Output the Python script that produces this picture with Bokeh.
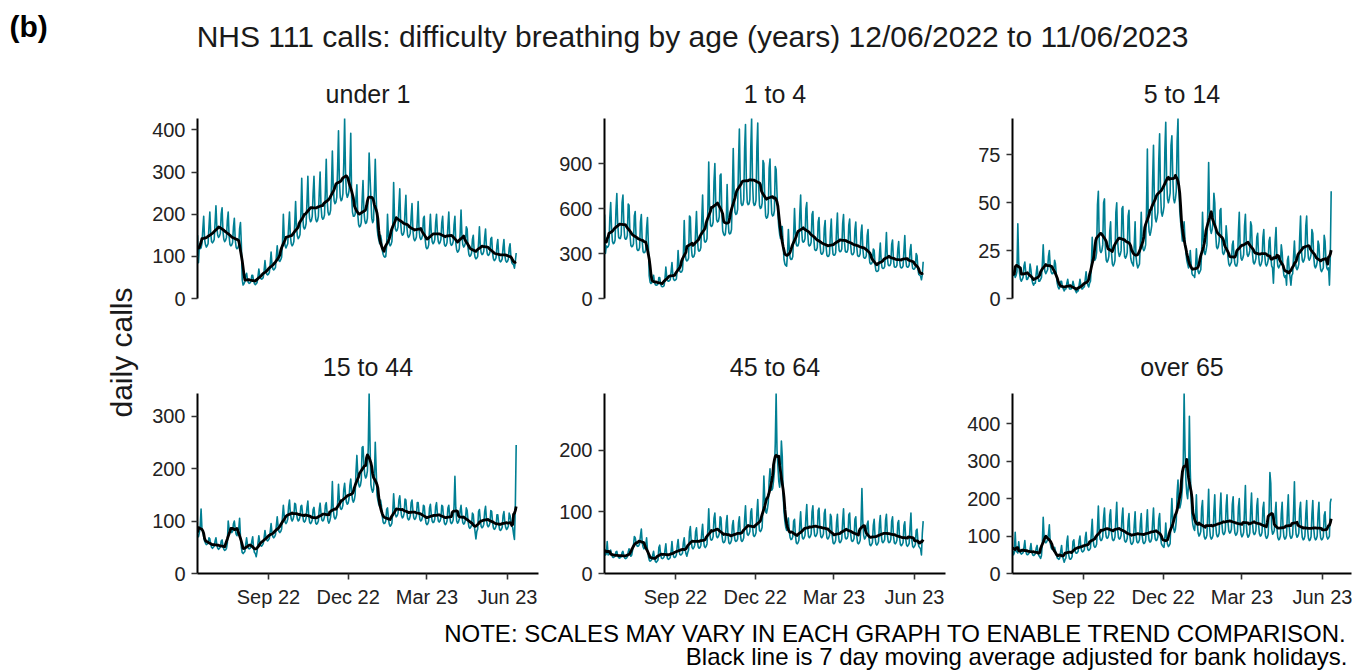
import math
import pandas as pd
from bokeh.plotting import figure
from bokeh.layouts import row, column
from bokeh.models import Range1d, FixedTicker, Label
from bokeh.embed import file_html
from bokeh.resources import INLINE

# ---------------- data (daily NHS 111 calls, Sun..Sat rows, from 12/06/2022) ----------------
START_DATE = "2022-06-12"
TITLE = "NHS 111 calls: difficulty breathing by age (years) 12/06/2022 to 11/06/2023"
PANEL_TITLES = ["under 1", "1 to 4", "5 to 14", "15 to 44", "45 to 64", "over 65"]
Y_TICKS = [[0, 100, 200, 300, 400], [0, 300, 600, 900], [0, 25, 50, 75],
           [0, 100, 200, 300], [0, 100, 200], [0, 100, 200, 300, 400]]
X_TICK_DATES = ["2022-09-01", "2022-12-01", "2023-03-01", "2023-06-01"]
X_TICK_LABELS = ["Sep 22", "Dec 22", "Mar 23", "Jun 23"]
Y_LABEL = "daily calls"
NOTE_1 = "NOTE: SCALES MAY VARY IN EACH GRAPH TO ENABLE TREND COMPARISON."
NOTE_2 = "Black line is 7 day moving average adjusted for bank holidays."

under_1_weeks = [
    [150, 85, 125, 118, 120, 130, 165], [195, 140, 128, 122, 125, 130, 170],
    [205, 155, 135, 132, 135, 140, 180], [220, 170, 150, 145, 148, 155, 200],
    [215, 160, 140, 135, 138, 145, 185], [205, 148, 128, 125, 127, 133, 170],
    [190, 140, 122, 118, 120, 126, 165], [180, 130, 45, 32, 35, 40, 55],
    [60, 45, 38, 36, 37, 40, 55], [55, 42, 35, 33, 35, 38, 52],
    [70, 55, 48, 46, 47, 50, 66], [90, 68, 58, 56, 58, 62, 82],
    [110, 82, 70, 68, 70, 74, 100], [125, 100, 90, 88, 92, 98, 130],
    [200, 145, 125, 120, 125, 130, 170], [205, 150, 130, 125, 128, 135, 177],
    [230, 170, 148, 142, 145, 152, 200], [285, 200, 170, 165, 168, 178, 230],
    [290, 215, 190, 182, 185, 195, 250], [290, 215, 188, 182, 185, 195, 252],
    [300, 220, 193, 188, 190, 198, 255], [330, 235, 205, 198, 200, 210, 270],
    [350, 265, 232, 225, 228, 240, 310], [398, 280, 240, 232, 235, 248, 320],
    [427, 300, 250, 240, 245, 255, 300], [392, 240, 205, 195, 195, 200, 240],
    [270, 200, 175, 170, 172, 180, 235], [280, 210, 185, 178, 180, 190, 250],
    [345, 290, 240, 190, 180, 185, 250], [330, 250, 170, 150, 140, 130, 150],
    [140, 115, 105, 100, 98, 100, 125], [200, 150, 130, 125, 128, 135, 175],
    [275, 190, 165, 160, 162, 170, 220], [260, 180, 155, 150, 152, 160, 210],
    [245, 172, 150, 145, 148, 155, 195], [225, 162, 142, 137, 140, 146, 185],
    [230, 165, 145, 140, 142, 150, 190], [195, 140, 122, 118, 120, 127, 165],
    [200, 155, 135, 130, 133, 140, 180], [200, 155, 135, 130, 133, 140, 180],
    [195, 148, 128, 124, 126, 133, 172], [205, 150, 130, 126, 128, 135, 175],
    [195, 132, 115, 110, 112, 118, 155], [210, 150, 128, 122, 125, 132, 170],
    [165, 120, 104, 100, 102, 108, 140], [150, 112, 98, 94, 96, 100, 132],
    [170, 125, 108, 104, 106, 112, 145], [165, 122, 106, 102, 104, 110, 142],
    [145, 108, 94, 90, 92, 97, 126], [140, 104, 90, 87, 89, 94, 122],
    [140, 103, 90, 86, 88, 93, 120], [130, 98, 85, 82, 80, 72, 88],
    [108],
]

age_1_4_weeks = [
    [560, 300, 350, 340, 345, 360, 540], [640, 460, 380, 365, 370, 390, 590],
    [700, 500, 410, 400, 400, 425, 640], [690, 495, 405, 395, 398, 420, 630],
    [620, 430, 355, 345, 348, 365, 550], [580, 400, 330, 320, 322, 340, 510],
    [560, 380, 312, 305, 308, 325, 470], [540, 370, 150, 110, 100, 105, 140],
    [155, 110, 92, 88, 90, 95, 140], [140, 100, 82, 78, 80, 86, 130],
    [210, 145, 118, 115, 118, 125, 180], [240, 155, 125, 120, 124, 130, 190],
    [320, 220, 180, 175, 178, 190, 290], [520, 320, 260, 250, 255, 270, 550],
    [540, 350, 285, 275, 280, 300, 450], [580, 400, 325, 315, 320, 340, 520],
    [690, 470, 385, 375, 380, 400, 600], [910, 600, 490, 480, 485, 510, 780],
    [900, 640, 525, 510, 515, 545, 820], [830, 560, 450, 430, 420, 430, 500],
    [760, 540, 440, 430, 435, 460, 700], [1000, 700, 575, 560, 565, 595, 900],
    [1130, 775, 635, 620, 625, 660, 1000], [1160, 780, 640, 625, 630, 660, 1000],
    [1200, 780, 640, 620, 625, 655, 1000], [1170, 760, 620, 600, 605, 635, 920],
    [900, 670, 550, 535, 540, 570, 870], [930, 690, 565, 550, 555, 585, 880],
    [860, 700, 560, 480, 430, 400, 480], [480, 360, 260, 230, 220, 215, 300],
    [460, 330, 270, 260, 262, 280, 420], [600, 440, 360, 350, 352, 375, 560],
    [690, 470, 385, 375, 380, 400, 600], [640, 440, 360, 350, 355, 375, 560],
    [580, 400, 328, 320, 322, 340, 510], [540, 370, 305, 295, 298, 315, 470],
    [520, 350, 288, 280, 282, 298, 440], [530, 360, 295, 288, 290, 305, 460],
    [570, 390, 320, 312, 315, 330, 500], [560, 385, 315, 308, 310, 328, 490],
    [530, 365, 300, 292, 295, 310, 460], [510, 350, 288, 280, 282, 298, 440],
    [490, 335, 275, 268, 270, 285, 420], [460, 300, 240, 230, 232, 245, 330],
    [320, 225, 185, 180, 182, 190, 290], [370, 250, 205, 200, 202, 212, 320],
    [440, 280, 225, 218, 220, 235, 360], [390, 260, 213, 208, 210, 221, 330],
    [380, 255, 210, 204, 206, 217, 320], [420, 265, 215, 208, 210, 222, 320],
    [360, 245, 200, 195, 197, 208, 300], [285, 195, 160, 155, 150, 125, 160],
    [245],
]

age_5_14_weeks = [
    [15, 12, 13, 11, 12, 14, 39], [19, 13, 10, 9, 10, 11, 17],
    [19, 14, 10, 10, 11, 12, 18], [15, 10, 8, 7, 8, 8, 13],
    [17, 12, 9, 9, 10, 11, 18], [28, 18, 14, 13, 14, 15, 22],
    [25, 17, 14, 13, 13, 14, 20], [18, 12, 8, 6, 5, 6, 9],
    [9, 6, 5, 4, 5, 5, 8], [10, 7, 5, 5, 5, 6, 9],
    [7, 5, 4, 3, 4, 4, 7], [10, 7, 5, 5, 6, 6, 10],
    [14, 9, 7, 6, 8, 9, 17], [32, 20, 22, 20, 21, 24, 49],
    [56, 30, 25, 24, 25, 28, 50], [52, 26, 20, 19, 20, 22, 35],
    [40, 24, 18, 17, 18, 20, 45], [50, 30, 24, 22, 23, 25, 47],
    [48, 30, 22, 21, 22, 24, 43], [46, 28, 21, 19, 18, 17, 28],
    [40, 22, 18, 16, 17, 18, 30], [45, 30, 26, 25, 26, 28, 46],
    [78, 42, 35, 33, 35, 38, 62], [80, 52, 42, 40, 42, 45, 72],
    [86, 56, 45, 43, 45, 48, 78], [92, 62, 52, 50, 52, 55, 80],
    [85, 64, 52, 50, 52, 56, 82], [94, 58, 46, 40, 35, 30, 35],
    [40, 30, 24, 20, 18, 16, 18], [25, 18, 13, 12, 12, 11, 16],
    [26, 18, 14, 13, 14, 15, 24], [45, 32, 24, 23, 25, 28, 45],
    [71, 45, 36, 34, 36, 40, 55], [50, 34, 27, 26, 27, 30, 46],
    [47, 30, 24, 23, 24, 26, 38], [32, 22, 18, 17, 18, 19, 28],
    [30, 22, 18, 17, 17, 19, 35], [45, 27, 21, 20, 21, 23, 38],
    [44, 29, 23, 22, 23, 25, 40], [38, 24, 19, 18, 19, 21, 32],
    [34, 23, 18, 17, 18, 20, 32], [36, 23, 18, 17, 18, 20, 30],
    [32, 22, 17, 16, 8, 19, 30], [37, 22, 17, 16, 17, 18, 28],
    [24, 16, 12, 11, 12, 7, 20], [22, 15, 11, 7, 12, 13, 22],
    [30, 20, 16, 15, 16, 18, 32], [43, 25, 20, 19, 20, 22, 38],
    [43, 27, 21, 20, 21, 23, 36], [34, 22, 17, 16, 17, 19, 30],
    [28, 19, 15, 14, 15, 16, 33], [30, 20, 16, 15, 16, 7, 22],
    [56],
]

age_15_44_weeks = [
    [75, 70, 78, 90, 123, 85, 80], [70, 62, 58, 55, 56, 58, 68],
    [66, 56, 50, 48, 50, 52, 62], [68, 55, 48, 46, 48, 50, 62],
    [64, 52, 46, 44, 45, 48, 58], [100, 85, 80, 82, 78, 80, 95],
    [100, 85, 75, 72, 80, 85, 105], [70, 50, 40, 38, 40, 42, 55],
    [68, 55, 48, 47, 48, 50, 62], [70, 48, 40, 38, 32, 42, 58],
    [72, 60, 54, 52, 54, 57, 68], [82, 70, 64, 62, 64, 67, 80],
    [95, 78, 70, 68, 70, 74, 92], [108, 90, 80, 78, 80, 85, 108],
    [130, 110, 98, 95, 98, 104, 128], [140, 116, 104, 100, 103, 110, 134],
    [132, 115, 104, 100, 102, 108, 128], [130, 113, 100, 98, 100, 106, 126],
    [138, 110, 98, 95, 97, 102, 122], [126, 108, 96, 94, 96, 100, 122],
    [134, 115, 102, 100, 102, 108, 130], [135, 115, 100, 96, 100, 108, 128],
    [175, 122, 108, 104, 106, 112, 135], [170, 140, 125, 122, 124, 130, 160],
    [172, 150, 136, 132, 134, 142, 168], [180, 155, 140, 136, 140, 150, 195],
    [225, 190, 170, 165, 168, 178, 240], [242, 208, 188, 182, 185, 195, 240],
    [343, 250, 170, 160, 155, 160, 185], [250, 200, 150, 140, 132, 128, 140],
    [130, 110, 98, 95, 96, 100, 122], [125, 105, 94, 90, 92, 96, 118],
    [152, 125, 112, 108, 110, 115, 140], [148, 125, 110, 106, 108, 115, 142],
    [140, 118, 105, 102, 104, 110, 135], [140, 120, 106, 103, 105, 110, 135],
    [135, 116, 103, 100, 102, 108, 130], [128, 108, 96, 93, 95, 100, 125],
    [132, 112, 100, 97, 98, 104, 128], [135, 114, 100, 98, 100, 106, 130],
    [128, 108, 96, 93, 95, 100, 125], [130, 110, 98, 95, 97, 102, 128],
    [185, 125, 100, 96, 98, 104, 120], [130, 110, 97, 94, 96, 102, 125],
    [120, 100, 89, 86, 88, 92, 115], [112, 92, 80, 66, 80, 85, 118],
    [122, 102, 90, 87, 89, 94, 118], [128, 105, 92, 89, 91, 96, 120],
    [118, 98, 87, 84, 86, 90, 112], [112, 95, 84, 82, 84, 88, 110],
    [118, 98, 88, 84, 86, 90, 115], [110, 100, 90, 88, 75, 65, 126],
    [245],
]

age_45_64_weeks = [
    [38, 30, 32, 52, 30, 32, 36], [38, 31, 27, 26, 27, 28, 35],
    [36, 29, 26, 25, 26, 27, 34], [36, 29, 25, 24, 25, 27, 35],
    [40, 32, 28, 30, 38, 45, 60], [58, 50, 45, 44, 45, 48, 62],
    [72, 50, 43, 40, 42, 45, 58], [38, 28, 22, 20, 21, 23, 30],
    [36, 25, 20, 18, 20, 22, 42], [46, 31, 25, 24, 25, 27, 38],
    [48, 30, 24, 23, 24, 26, 36], [52, 34, 27, 26, 27, 30, 45],
    [55, 38, 31, 30, 31, 33, 50], [58, 40, 32, 28, 34, 38, 68],
    [76, 52, 42, 40, 42, 46, 68], [74, 52, 43, 41, 42, 46, 66],
    [80, 55, 44, 42, 44, 48, 72], [105, 68, 56, 54, 55, 60, 90],
    [98, 72, 60, 58, 60, 64, 92], [90, 63, 52, 50, 51, 55, 82],
    [94, 62, 50, 48, 50, 54, 78], [86, 64, 54, 52, 53, 56, 82],
    [92, 66, 54, 52, 54, 58, 88], [110, 78, 64, 62, 64, 68, 100],
    [105, 76, 62, 60, 62, 66, 98], [120, 85, 70, 68, 70, 75, 110],
    [158, 120, 100, 98, 105, 115, 150], [170, 145, 135, 138, 150, 165, 210],
    [292, 200, 175, 150, 140, 160, 215], [190, 130, 100, 85, 75, 70, 80],
    [90, 68, 58, 55, 56, 60, 85], [88, 62, 50, 48, 50, 54, 80],
    [100, 70, 58, 56, 58, 62, 92], [112, 75, 60, 58, 60, 64, 100],
    [110, 76, 62, 60, 62, 66, 102], [106, 74, 60, 58, 60, 64, 98],
    [104, 72, 58, 56, 58, 62, 96], [92, 62, 50, 48, 50, 54, 82],
    [96, 65, 52, 50, 52, 56, 85], [105, 71, 58, 56, 57, 61, 95],
    [98, 66, 54, 52, 53, 57, 88], [92, 62, 50, 48, 50, 54, 82],
    [138, 85, 62, 56, 58, 62, 80], [85, 58, 47, 45, 47, 50, 78],
    [88, 60, 48, 46, 48, 52, 80], [94, 64, 52, 50, 52, 55, 86],
    [96, 64, 52, 50, 51, 55, 85], [92, 62, 50, 48, 50, 54, 82],
    [86, 58, 47, 45, 47, 50, 78], [84, 57, 46, 44, 46, 49, 76],
    [98, 55, 44, 42, 44, 47, 70], [72, 52, 44, 42, 40, 30, 65],
    [85],
]

over_65_weeks = [
    [60, 50, 55, 110, 60, 58, 55], [85, 62, 55, 52, 54, 56, 70],
    [88, 60, 52, 50, 52, 55, 65], [80, 58, 50, 48, 50, 53, 68],
    [75, 55, 48, 45, 40, 48, 80], [150, 100, 85, 82, 85, 90, 105],
    [130, 82, 70, 65, 68, 60, 70], [60, 50, 42, 40, 38, 42, 60],
    [75, 48, 38, 30, 38, 42, 85], [100, 52, 40, 38, 40, 45, 85],
    [90, 66, 56, 54, 56, 60, 88], [100, 72, 60, 58, 60, 64, 95],
    [110, 77, 64, 62, 64, 68, 110], [145, 90, 74, 70, 72, 78, 120],
    [180, 112, 92, 88, 90, 98, 150], [175, 118, 98, 94, 96, 104, 155],
    [170, 112, 92, 88, 90, 98, 148], [190, 118, 96, 92, 94, 102, 150],
    [175, 110, 88, 84, 86, 94, 140], [160, 100, 82, 78, 80, 86, 130],
    [165, 104, 85, 82, 84, 90, 135], [160, 102, 84, 80, 82, 88, 132],
    [170, 108, 88, 84, 86, 94, 138], [175, 112, 92, 88, 90, 98, 145],
    [160, 100, 80, 75, 72, 70, 95], [135, 95, 78, 72, 75, 80, 150],
    [200, 145, 120, 110, 118, 140, 215], [250, 180, 175, 185, 200, 230, 300],
    [481, 330, 250, 215, 200, 240, 420], [275, 200, 150, 130, 120, 115, 150],
    [210, 135, 108, 100, 104, 112, 175], [195, 122, 98, 92, 95, 102, 160],
    [225, 125, 98, 92, 95, 102, 165], [210, 131, 105, 98, 100, 108, 170],
    [215, 138, 110, 104, 106, 115, 180], [210, 140, 114, 108, 110, 118, 185],
    [205, 135, 108, 102, 105, 113, 178], [200, 131, 105, 98, 102, 110, 172],
    [235, 132, 104, 97, 100, 108, 170], [215, 138, 110, 104, 106, 115, 180],
    [200, 132, 106, 100, 102, 110, 175], [190, 125, 100, 94, 96, 104, 165],
    [270, 240, 120, 105, 108, 115, 160], [190, 122, 96, 90, 92, 100, 160],
    [190, 124, 98, 92, 94, 102, 165], [210, 128, 100, 94, 96, 104, 165],
    [245, 134, 104, 97, 100, 108, 170], [190, 122, 96, 90, 92, 100, 160],
    [195, 120, 94, 88, 90, 98, 158], [195, 122, 96, 90, 92, 100, 160],
    [190, 120, 95, 90, 92, 98, 155], [165, 120, 98, 92, 95, 100, 190],
    [200],
]


def flatten(weeks):
    return [v for wk in weeks for v in wk]


under_1 = flatten(under_1_weeks)
age_1_4 = flatten(age_1_4_weeks)
age_5_14 = flatten(age_5_14_weeks)
age_15_44 = flatten(age_15_44_weeks)
age_45_64 = flatten(age_45_64_weeks)
over_65 = flatten(over_65_weeks)
SERIES = [under_1, age_1_4, age_5_14, age_15_44, age_45_64, over_65]

# ---------------- styling / layout ----------------
FONT = "Liberation Sans"
TEAL = "#007F93"
TEXT = "#1a1a1a"
TICK_TEXT = "#222222"
DAY_PX = 0.8755
FRAME_H = 180
COL_BORDERS = [(57, 341, 14), (52, 341, 10), (57, 339, 1)]
ROW_BORDERS = [(52, 32), (63, 42)]
TITLE_STANDOFF = [22, 25]
HEADER_H = 66
FOOTER_H = 55
YLAB_W = 140

start = pd.Timestamp(START_DATE)
x_tick_ms = [float(pd.Timestamp(d).value // 10**6) for d in X_TICK_DATES]


def style_axis(ax):
    ax.axis_line_color = "black"
    ax.axis_line_width = 2
    ax.major_tick_line_color = "#333333"
    ax.major_tick_line_width = 1.6
    ax.major_tick_out = 6
    ax.major_tick_in = 0
    ax.minor_tick_line_color = None
    ax.major_label_text_font = FONT
    ax.major_label_text_font_size = "20px"
    ax.major_label_text_color = TICK_TEXT
    ax.major_label_standoff = 6


def make_panel(i):
    vals = SERIES[i]
    r, c = divmod(i, 3)
    lb, fw, rb = COL_BORDERS[c]
    tb, bb = ROW_BORDERS[r]
    dates = pd.date_range(START_DATE, periods=len(vals), freq="D")
    s = pd.Series(vals, index=dates, dtype=float)
    ma = s.rolling(7, center=True, min_periods=1).mean()
    x0 = start - pd.Timedelta(hours=2)
    x1 = start + pd.Timedelta(days=fw / DAY_PX)
    p = figure(width=lb + fw + rb, height=tb + FRAME_H + bb,
               x_axis_type="datetime",
               x_range=Range1d(x0, x1), y_range=Range1d(0, max(vals)),
               x_axis_location="below" if r == 1 else None,
               output_backend="svg", toolbar_location=None,
               title=PANEL_TITLES[i],
               min_border_left=lb, min_border_right=rb,
               min_border_top=tb, min_border_bottom=bb)
    p.outline_line_color = None
    p.xgrid.visible = False
    p.ygrid.visible = False
    p.title.align = "center"
    p.title.text_font = FONT
    p.title.text_font_size = "25px"
    p.title.text_font_style = "normal"
    p.title.text_color = TEXT
    p.title.standoff = TITLE_STANDOFF[r]
    p.yaxis.ticker = FixedTicker(ticks=Y_TICKS[i])
    style_axis(p.yaxis[0])
    if r == 1:
        p.xaxis.ticker = FixedTicker(ticks=x_tick_ms)
        p.xaxis.major_label_overrides = dict(zip(x_tick_ms, X_TICK_LABELS))
        style_axis(p.xaxis[0])
    p.line(dates, vals, line_color=TEAL, line_width=1.6, line_join="round")
    p.line(dates, ma.values, line_color="black", line_width=2.8, line_join="round")
    return p


def text_fig(w, h):
    f = figure(width=w, height=h, x_range=Range1d(0, w), y_range=Range1d(0, h),
               output_backend="svg", toolbar_location=None,
               x_axis_location=None, y_axis_location=None,
               min_border_left=0, min_border_right=0,
               min_border_top=0, min_border_bottom=0)
    f.outline_line_color = None
    f.xgrid.visible = False
    f.ygrid.visible = False
    return f


panels = [make_panel(i) for i in range(6)]
grid_w = sum(lb + fw + rb for lb, fw, rb in COL_BORDERS)
grid_h = sum(tb + FRAME_H + bb for tb, bb in ROW_BORDERS)
TOTAL_W = YLAB_W + grid_w

header = text_fig(TOTAL_W, HEADER_H)
header.add_layout(Label(x=9, y=HEADER_H - 25.5, text="(b)", text_font=FONT,
                        text_font_size="30px", text_font_style="bold", text_color="black",
                        text_align="left", text_baseline="middle"))
header.add_layout(Label(x=692, y=HEADER_H - 36, text=TITLE, text_font=FONT,
                        text_font_size="30px", text_color=TEXT,
                        text_align="center", text_baseline="middle"))

ylab = text_fig(YLAB_W, grid_h)
ylab.add_layout(Label(x=121, y=grid_h - (352 - HEADER_H), text=Y_LABEL, angle=math.pi / 2,
                      text_font=FONT, text_font_size="30px", text_color=TEXT,
                      text_align="center", text_baseline="middle"))

footer = text_fig(TOTAL_W, FOOTER_H)
footer.add_layout(Label(x=1347, y=FOOTER_H - 17.6, text=NOTE_1, text_font=FONT,
                        text_font_size="24px", text_color="black",
                        text_align="right", text_baseline="middle"))
footer.add_layout(Label(x=1347, y=FOOTER_H - 40.6, text=NOTE_2, text_font=FONT,
                        text_font_size="24px", text_color="black",
                        text_align="right", text_baseline="middle"))

layout = column(header,
                row(ylab, column(row(*panels[:3]), row(*panels[3:]))),
                footer)

open("out.html", "w").write(file_html(layout, INLINE))
